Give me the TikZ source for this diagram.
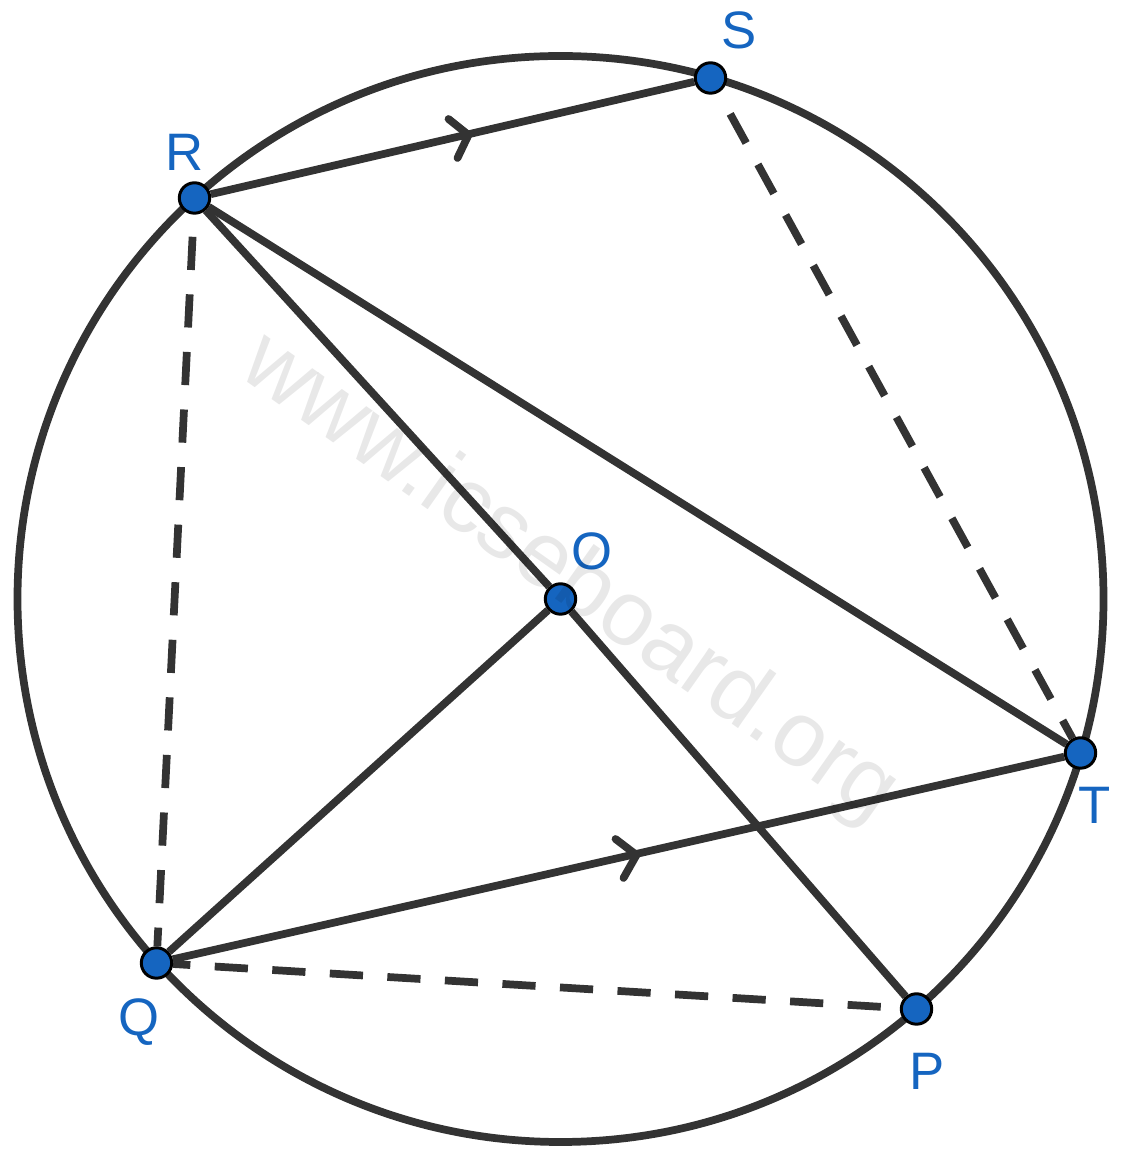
\documentclass[tikz,border=0pt]{standalone}
\usepackage{fontspec}
\setmainfont{Liberation Sans}
\usetikzlibrary{backgrounds}
\definecolor{pointblue}{HTML}{1565C0}
\definecolor{linegrey}{HTML}{333333}
\tikzset{
  pointdot/.style={circle, draw=black, line width=1.7pt, fill=pointblue, minimum size=17.3pt, inner sep=0pt},
  pointlabel/.style={text=pointblue, font=\fontsize{30}{30}\selectfont, inner sep=0pt},
  chord/.style={draw=linegrey, line width=4.4pt},
  dashchord/.style={chord, dash pattern=on 18.9pt off 13.9pt},
  chevron/.style={chord, line cap=round, line join=round},
}
\begin{document}
\begin{tikzpicture}
      \useasboundingbox (0,0) rectangle (22.76,23.36);

      % Points on the circle
      \coordinate (centre) at (11.21,11.38);
      \node[pointdot] (R) at (3.89,19.4) {};
      \node[pointdot] (S) at (14.21,21.8) {};
      \node[pointdot] (T) at (21.61,8.3) {};
      \node[pointdot] (Q) at (3.13,4.1) {};
      \node[pointdot] (P) at (18.33,3.18) {};
      \node[pointdot] (O) at (centre) {};

      \begin{scope}[on background layer]
        % Main circle
        \draw[chord] (centre) circle (10.86);

        % Solid chords
        \draw[chord] (R) -- (S);
        \draw[chord] (R) -- (T);
        \draw[chord] (R) -- (O);
        \draw[chord] (O) -- (P);
        \draw[chord] (O) -- (Q);
        \draw[chord] (Q) -- (T);

        % Dashed chords
        \draw[dashchord, dash phase=20.2pt] (R) -- (Q);
        \draw[dashchord, dash phase=19pt] (S) -- (T);
        \draw[dashchord, dash phase=9.1pt] (Q) -- (P);

        % Direction marks
        \draw[chevron] (8.97,20.98) -- (9.37,20.66) -- (9.15,20.2);
        \draw[chevron] (12.31,6.58) -- (12.73,6.26) -- (12.47,5.8);
      \end{scope}

      % Labels
      \node[pointlabel] (labR) at (3.7,20.32) {R};
      \node[pointlabel] (labS) at (14.78,22.76) {S};
      \node[pointlabel] (labO) at (11.84,12.34) {O};
      \node[pointlabel] (labT) at (21.9,7.26) {T};
      \node[pointlabel] (labQ) at (2.78,2.92) {Q};
      \node[pointlabel] (labP) at (18.54,1.94) {P};

      % watermark
      \node[text=black, text opacity=0.09, font=\fontsize{52.5}{52.5}\selectfont, rotate=-35.2, inner sep=0pt] (mark) at (11.37,11.77) {www.icseboard.org};
\end{tikzpicture}
\end{document}
